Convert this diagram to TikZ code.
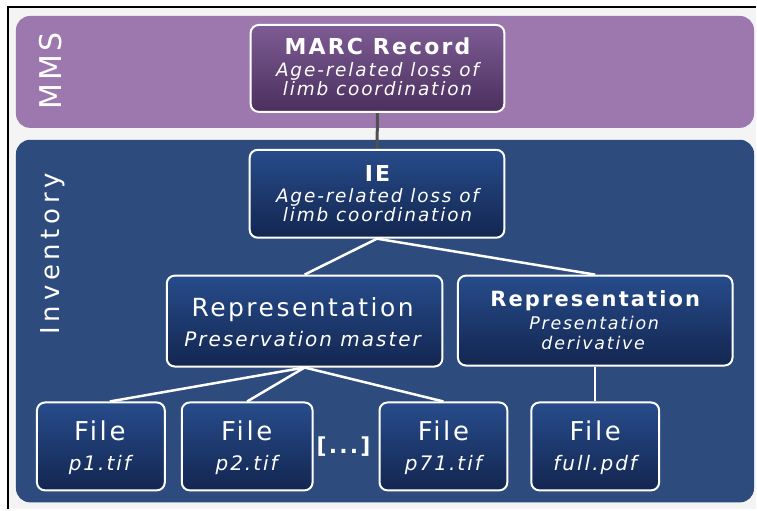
\documentclass[tikz,border=0pt]{standalone}
\usepackage{fontspec}
\setmainfont{DejaVu Sans}[LetterSpace=10]
\definecolor{mmsband}{HTML}{9C78AE}
\definecolor{invband}{HTML}{2D4B7D}
\definecolor{bgpage}{HTML}{F4F4F4}
\definecolor{purtop}{HTML}{7E5C94}
\definecolor{purbot}{HTML}{4A2F5E}
\definecolor{blutop}{HTML}{274C8B}
\definecolor{blubot}{HTML}{132650}
\definecolor{graylink}{HTML}{505050}
\newcommand\fsz[1]{\fontsize{#1}{#1}\selectfont}
\pgfdeclarelayer{bands}
\pgfdeclarelayer{links}
\pgfsetlayers{bands,links,main}
\tikzset{
  band/.style={inner sep=0pt, rounded corners=14pt},
  box/.style={draw=white, line width=2pt, rounded corners=8pt, inner sep=0pt,
    top color=blutop, bottom color=blubot},
  pbox/.style={box, top color=purtop, bottom color=purbot},
  txt/.style={text=white, anchor=base, inner sep=0pt},
  ttl/.style={txt, font=\fsz{22}\bfseries},
  sub/.style={txt, font=\fsz{18.5}\itshape},
  link/.style={white, line width=2.5pt},
  glink/.style={graylink, line width=3pt}
}
\begin{document}
\begin{tikzpicture}[x=1pt,y=-1pt]
\begin{pgfonlayer}{bands}
\fill[white] (0,0) rectangle (757,510);
\fill[bgpage] (8,7) rectangle (757,510);
\draw[black, line width=2pt] (8,510) -- (8,7) -- (757,7);
\node[band, fill=mmsband, minimum width=739pt, minimum height=112pt] (mms) at (385.5,72) {};
\node[band, fill=invband, minimum width=739pt, minimum height=363pt] (inv) at (385.5,321.5) {};
\end{pgfonlayer}
\node[txt, rotate=90, font=\fsz{30}] (mmsL) at (62,71) {MMS};
\node[txt, rotate=90, font=\fsz{26}\addfontfeature{LetterSpace=18}] (invL) at (60,254) {Inventory};
% boxes
\node[pbox, minimum width=254pt, minimum height=87pt] (marc) at (378,68.5) {};
\node[box, minimum width=255pt, minimum height=88pt] (ie) at (377.5,194) {};
\node[box, minimum width=276pt, minimum height=91pt] (r1) at (305,321.5) {};
\node[box, minimum width=275pt, minimum height=90pt] (r2) at (596,321) {};
\node[box, minimum width=128pt, minimum height=88pt] (f1) at (101,447) {};
\node[box, minimum width=131pt, minimum height=88pt] (f2) at (247.5,447) {};
\node[box, minimum width=128pt, minimum height=88pt] (f3) at (444,447) {};
\node[box, minimum width=128pt, minimum height=88pt] (f4) at (596,447) {};
% texts
\node[ttl] (marcT) at (378,55) {MARC Record};
\node[sub] (marcA) at (378,77) {Age-related loss of};
\node[sub] (marcB) at (378,96) {limb coordination};
\node[ttl] (ieT) at (378,182) {IE};
\node[sub] (ieA) at (378,203) {Age-related loss of};
\node[sub] (ieB) at (378,222) {limb coordination};
\node[txt, font=\fsz{25}] (r1T) at (303,317) {Representation};
\node[txt, font=\fsz{20}\itshape] (r1A) at (303,347) {Preservation master};
\node[txt, font=\fsz{21}\bfseries] (r2T) at (596,307) {Representation};
\node[txt, font=\fsz{17.5}\itshape] (r2A) at (595,330) {Presentation};
\node[txt, font=\fsz{17.5}\itshape] (r2B) at (594,350) {derivative};
\foreach \n/\x/\f in {f1/100/p1.tif, f2/247/p2.tif, f3/444/p71.tif, f4/596/full.pdf}{
  \node[txt, font=\fsz{26}] (\n T) at (\x,441) {File};
  \node[txt, font=\fsz{20}\itshape] (\n A) at (\x,471) {\f};
}
\node[txt, font=\fsz{22}\bfseries] (dots) at (344,454) {[...]};
% connectors
\begin{pgfonlayer}{links}
\draw[glink] (marc.south) -- (ie.north);
\draw[link] (ie.south) -- (r1.north);
\draw[link] (ie.south) -- (r2.north);
\draw[link] (r1.south) -- ([xshift=9pt]f1.north);
\draw[link] (r1.south) -- (f2.north);
\draw[link] (r1.south) -- (f3.north);
\draw[link] (r2.south) -- (f4.north);
\end{pgfonlayer}
\end{tikzpicture}
\end{document}
